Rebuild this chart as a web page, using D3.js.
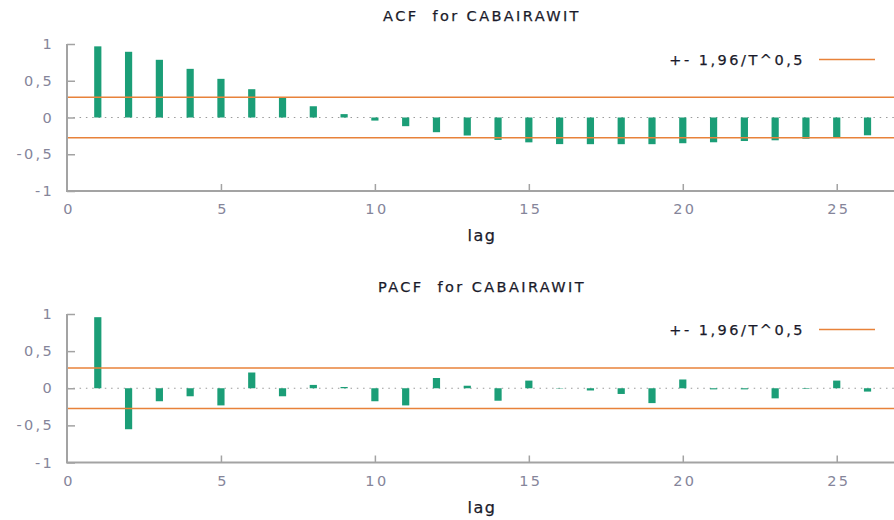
<!DOCTYPE html>
<html>
<head>
<meta charset="utf-8">
<script src="https://cdn.jsdelivr.net/npm/d3@7"></script>
<style>
  html, body { margin: 0; padding: 0; background: #fff; }
  svg { display: block; }
  text { font-family: "DejaVu Sans", Verdana, sans-serif; }
</style>
</head>
<body>
<svg id="chart" width="894" height="520"></svg>
<script>
// Correlogram data: lags 1..26
const lags = d3.range(1, 27);
const acfValues = [0.968, 0.894, 0.785, 0.662, 0.526, 0.385, 0.267, 0.153, 0.046,
  -0.042, -0.118, -0.200, -0.245, -0.305, -0.338, -0.362, -0.363, -0.363, -0.363,
  -0.350, -0.337, -0.320, -0.310, -0.290, -0.276, -0.242];
const pacfValues = [0.957, -0.552, -0.175, -0.108, -0.231, 0.212, -0.108, 0.045, 0.017,
  -0.175, -0.231, 0.138, 0.034, -0.168, 0.103, -0.005, -0.030, -0.077, -0.200,
  0.118, -0.015, -0.015, -0.136, -0.008, 0.103, -0.045];
const confBand = 0.274;            // 1.96 / sqrt(T)
const yTicks = [-1, -0.5, 0, 0.5, 1];
const xTicks = [0, 5, 10, 15, 20, 25];
const titles = ["ACF for CABAIRAWIT", "PACF for CABAIRAWIT"];
const legendLabel = "+- 1,96/T^0,5";
const xLabel = "lag";

const svg = d3.select("#chart");
const commaFmt = v => (v === 0 ? "0" : String(v).replace(".", ","));

const x = d3.scaleLinear().domain([0, 26.86]).range([67, 894]);

const panels = [
  { values: acfValues, title: titles[0], yRange: [191, 44], top: 0 },
  { values: pacfValues, title: titles[1], yRange: [462.5, 314], top: 271 }
];

const green = "#1b9e77";
const orange = "#e8823a";
const axisGray = "#a3a3a3";
const tickText = "#85859a";
const darkText = "#1a1a2a";

panels.forEach(p => {
  const y = d3.scaleLinear().domain([-1, 1]).range(p.yRange);
  const g = svg.append("g");

  // title
  g.append("text")
    .attr("x", 482).attr("y", p.top + 21)
    .attr("text-anchor", "middle")
    .attr("font-size", 14.5).attr("letter-spacing", 2.4)
    .attr("fill", darkText)
    .attr("stroke", darkText).attr("stroke-width", 0.25)
    .attr("xml:space", "preserve")
    .text(p.title.replace(" for", "  for"));

  // zero line (dotted)
  g.append("line")
    .attr("x1", x(0)).attr("x2", x.range()[1])
    .attr("y1", y(0)).attr("y2", y(0))
    .attr("stroke", "#9a9a9a").attr("stroke-width", 1.2)
    .attr("stroke-dasharray", "1.5,4.8");

  // bars
  g.selectAll("rect.bar").data(p.values).join("rect")
    .attr("class", "bar")
    .attr("x", (d, i) => x(lags[i]) - 3.6)
    .attr("width", 7.2)
    .attr("y", d => y(Math.max(0, d)))
    .attr("height", d => Math.abs(y(d) - y(0)))
    .attr("fill", green);

  // confidence band lines
  [confBand, -confBand].forEach(c => {
    g.append("line")
      .attr("x1", x(0)).attr("x2", x.range()[1])
      .attr("y1", y(c)).attr("y2", y(c))
      .attr("stroke", orange).attr("stroke-width", 1.5);
  });

  // axes
  const yAxis = d3.axisRight(y).tickValues(yTicks).tickSize(8).tickFormat("");
  const yg = g.append("g").attr("transform", `translate(${x(0)},0)`).call(yAxis);
  const xAxis = d3.axisTop(x).tickValues(xTicks.filter(t => t > 0)).tickSize(7).tickFormat("");
  const xg = g.append("g").attr("transform", `translate(0,${y(-1)})`).call(xAxis);
  [yg, xg].forEach(a => {
    a.select(".domain").remove();
    a.selectAll(".tick line").attr("stroke", axisGray).attr("stroke-width", 1.5);
  });
  g.append("line")
    .attr("x1", x(0)).attr("x2", x(0))
    .attr("y1", y(1)).attr("y2", y(-1))
    .attr("stroke", axisGray).attr("stroke-width", 2);
  g.append("line")
    .attr("x1", x(0) - 1).attr("x2", x.range()[1])
    .attr("y1", y(-1)).attr("y2", y(-1))
    .attr("stroke", axisGray).attr("stroke-width", 2);

  // y tick labels
  g.selectAll("text.ylab").data(yTicks).join("text")
    .attr("class", "ylab")
    .attr("x", 54).attr("y", d => y(d) + 5)
    .attr("text-anchor", "end")
    .attr("font-size", 14.5).attr("letter-spacing", 2.3)
    .attr("fill", tickText)
    .text(commaFmt);

  // x tick labels
  g.selectAll("text.xlab").data(xTicks).join("text")
    .attr("class", "xlab")
    .attr("x", d => x(d) + 2).attr("y", y(-1) + 23)
    .attr("text-anchor", "middle")
    .attr("font-size", 14.5).attr("letter-spacing", 2.3)
    .attr("fill", tickText)
    .text(commaFmt);

  // axis title
  g.append("text")
    .attr("x", 482).attr("y", y(-1) + 50)
    .attr("text-anchor", "middle")
    .attr("font-size", 16).attr("letter-spacing", 1.5)
    .attr("fill", darkText)
    .attr("stroke", darkText).attr("stroke-width", 0.25)
    .text(xLabel);

  // legend
  const ly = y(1) + 15.5;
  g.append("text")
    .attr("x", 805).attr("y", ly + 5)
    .attr("text-anchor", "end")
    .attr("font-size", 14.5).attr("letter-spacing", 2.5)
    .attr("fill", darkText)
    .attr("stroke", darkText).attr("stroke-width", 0.25)
    .text(legendLabel);
  g.append("line")
    .attr("x1", 819).attr("x2", 875)
    .attr("y1", ly).attr("y2", ly)
    .attr("stroke", orange).attr("stroke-width", 1.5);
});
</script>
</body>
</html>
